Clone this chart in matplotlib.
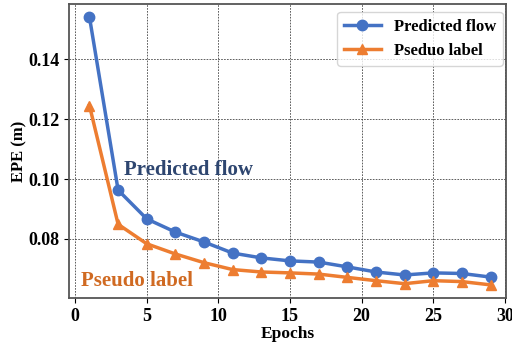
import matplotlib
matplotlib.use("Agg")
import matplotlib.pyplot as plt

epochs = [1, 3, 5, 7, 9, 11, 13, 15, 17, 19, 21, 23, 25, 27, 29]
predicted_flow = [0.154, 0.0963, 0.0867, 0.0823, 0.0790, 0.0753, 0.0737, 0.0727,
                  0.0723, 0.0707, 0.0690, 0.0680, 0.0687, 0.0685, 0.0673]
pseudo_label = [0.1245, 0.0849, 0.0784, 0.0750, 0.0721, 0.0698, 0.0690, 0.0687,
                0.0683, 0.0672, 0.0661, 0.0651, 0.0661, 0.0658, 0.0647]

plt.rcParams['font.family'] = ['Liberation Serif', 'DejaVu Serif']
plt.rcParams['font.weight'] = 'bold'

blue = '#4472C4'
orange = '#ED7D31'

fig = plt.figure(figsize=(5.12, 3.45), dpi=100)
ax = fig.add_axes([0.135, 0.136, 0.853, 0.852])

ax.plot(epochs, predicted_flow, color=blue, lw=2.5, marker='o', markersize=7.5,
        label='Predicted flow')
ax.plot(epochs, pseudo_label, color=orange, lw=2.5, marker='^', markersize=7.5,
        label='Pseduo label')

ax.text(3.4, 0.1031, 'Predicted flow', color='#2E4670', fontsize=15,
        fontweight='bold', va='center')
ax.text(0.42, 0.0660, 'Pseudo label', color='#D06A22', fontsize=15,
        fontweight='bold', va='center')

ax.set_xlim(-0.42, 30.07)
ax.set_ylim(0.0603, 0.1583)
ax.set_xticks([0, 5, 10, 15, 20, 25, 30])
ax.set_yticks([0.08, 0.10, 0.12, 0.14])
ax.set_yticklabels(['0.08', '0.10', '0.12', '0.14'])
ax.tick_params(labelsize=13)
ax.set_xlabel('Epochs', fontsize=12.5, fontweight='bold', labelpad=1)
ax.set_ylabel('EPE (m)', fontsize=12, fontweight='bold', labelpad=0.5)
ax.grid(True, linestyle=(0, (2, 1.5)), color='#444444', lw=0.6)
for s in ax.spines.values():
    s.set_color('#555555')
    s.set_linewidth(1.3)

ax.legend(loc='upper right', bbox_to_anchor=(0.993, 0.973), borderaxespad=0,
          fontsize=12, frameon=True, handlelength=2.2)

fig.savefig('out.png', dpi=100)
